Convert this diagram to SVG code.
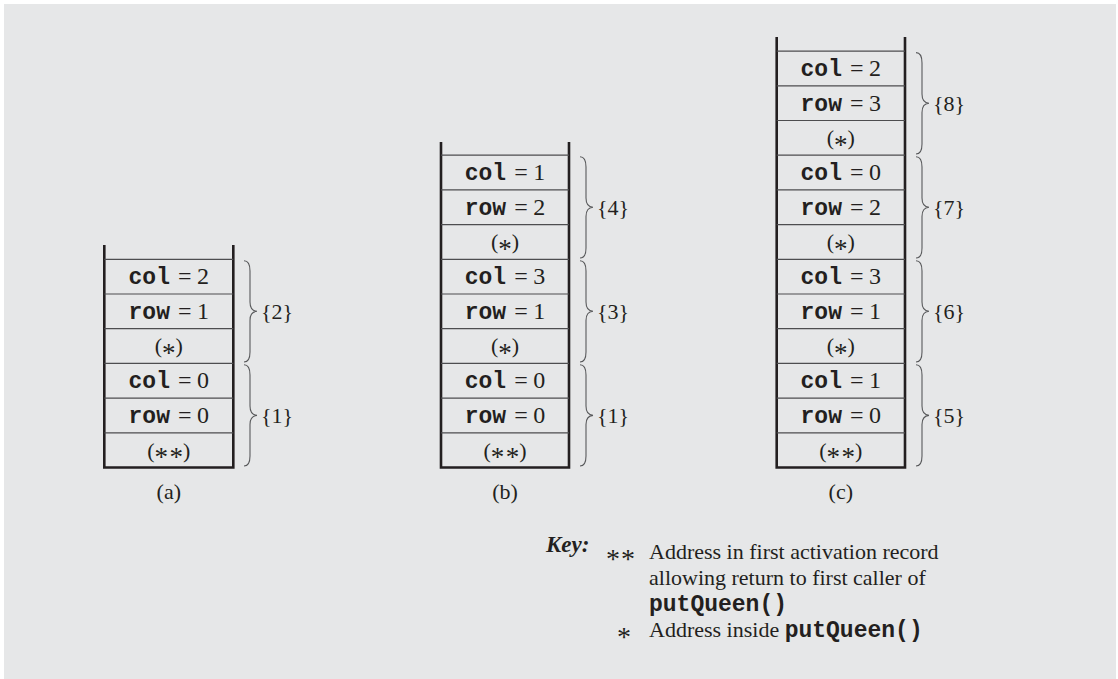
<svg xmlns="http://www.w3.org/2000/svg" width="1118" height="679" viewBox="0 0 1118 679">
<style>
text{font-family:"Liberation Serif","Times New Roman",serif;font-size:22px;fill:#231f20}
.c{text-anchor:middle}
.v{font-size:24px}
.code{font-family:"Liberation Mono","Courier New",monospace;font-weight:bold;font-size:23px}
.wall{stroke:#231f20;stroke-width:2.6;fill:none}
.sep{stroke:#4d4d4f;stroke-width:1.2;fill:none}
.brace{stroke:#58595b;stroke-width:1.1;fill:none}
.key{font-weight:bold;font-style:italic;font-size:23px}
.ast{font-size:27px}
.kast{font-size:28px}
</style>
<rect x="0" y="0" width="1118" height="679" fill="#ffffff"/>
<rect x="4" y="4" width="1112" height="675" fill="#e6e7e8"/>

<g id="stack-a">
  <path class="wall" d="M104.3,245 V467.5 H233.3 V245"/>
  <path class="sep" d="M104.3,259.3 H233.3 M104.3,294 H233.3 M104.3,328.7 H233.3 M104.3,363.4 H233.3 M104.3,398.1 H233.3 M104.3,432.8 H233.3"/>
  <g id="a-rec2">
    <text class="c v" x="168.8" y="284"><tspan class="code">col</tspan><tspan dx="8">=</tspan><tspan dx="5.5">2</tspan></text>
    <text class="c v" x="168.8" y="318.7"><tspan class="code">row</tspan><tspan dx="8">=</tspan><tspan dx="5.5">1</tspan></text>
    <text class="c" x="168.8" y="353.4">(<tspan class="ast" dy="8.5">*</tspan><tspan dy="-8.5">)</tspan></text>
  </g>
  <g id="a-rec1">
    <text class="c v" x="168.8" y="388.1"><tspan class="code">col</tspan><tspan dx="8">=</tspan><tspan dx="5.5">0</tspan></text>
    <text class="c v" x="168.8" y="422.8"><tspan class="code">row</tspan><tspan dx="8">=</tspan><tspan dx="5.5">0</tspan></text>
    <text class="c" x="168.8" y="457.5">(<tspan class="ast" dy="8.5">*</tspan><tspan class="ast" dx="1.5">*</tspan><tspan dy="-8.5">)</tspan></text>
  </g>
  <text class="c" x="168.8" y="499">(a)</text>
</g>

<g id="stack-b">
  <path class="wall" d="M441,142 V467.5 H569 V142"/>
  <path class="sep" d="M441,155.2 H569 M441,189.9 H569 M441,224.6 H569 M441,259.3 H569 M441,294 H569 M441,328.7 H569 M441,363.4 H569 M441,398.1 H569 M441,432.8 H569"/>
  <g id="b-rec4">
    <text class="c v" x="505" y="179.9"><tspan class="code">col</tspan><tspan dx="8">=</tspan><tspan dx="5.5">1</tspan></text>
    <text class="c v" x="505" y="214.6"><tspan class="code">row</tspan><tspan dx="8">=</tspan><tspan dx="5.5">2</tspan></text>
    <text class="c" x="505" y="249.3">(<tspan class="ast" dy="8.5">*</tspan><tspan dy="-8.5">)</tspan></text>
  </g>
  <g id="b-rec3">
    <text class="c v" x="505" y="284"><tspan class="code">col</tspan><tspan dx="8">=</tspan><tspan dx="5.5">3</tspan></text>
    <text class="c v" x="505" y="318.7"><tspan class="code">row</tspan><tspan dx="8">=</tspan><tspan dx="5.5">1</tspan></text>
    <text class="c" x="505" y="353.4">(<tspan class="ast" dy="8.5">*</tspan><tspan dy="-8.5">)</tspan></text>
  </g>
  <g id="b-rec1">
    <text class="c v" x="505" y="388.1"><tspan class="code">col</tspan><tspan dx="8">=</tspan><tspan dx="5.5">0</tspan></text>
    <text class="c v" x="505" y="422.8"><tspan class="code">row</tspan><tspan dx="8">=</tspan><tspan dx="5.5">0</tspan></text>
    <text class="c" x="505" y="457.5">(<tspan class="ast" dy="8.5">*</tspan><tspan class="ast" dx="1.5">*</tspan><tspan dy="-8.5">)</tspan></text>
  </g>
  <text class="c" x="505" y="499">(b)</text>
</g>

<g id="stack-c">
  <path class="wall" d="M776.7,37 V467.5 H905 V37"/>
  <path class="sep" d="M776.7,51.1 H905 M776.7,85.8 H905 M776.7,120.5 H905 M776.7,155.2 H905 M776.7,189.9 H905 M776.7,224.6 H905 M776.7,259.3 H905 M776.7,294 H905 M776.7,328.7 H905 M776.7,363.4 H905 M776.7,398.1 H905 M776.7,432.8 H905"/>
  <g id="c-rec8">
    <text class="c v" x="840.8" y="75.8"><tspan class="code">col</tspan><tspan dx="8">=</tspan><tspan dx="5.5">2</tspan></text>
    <text class="c v" x="840.8" y="110.5"><tspan class="code">row</tspan><tspan dx="8">=</tspan><tspan dx="5.5">3</tspan></text>
    <text class="c" x="840.8" y="145.2">(<tspan class="ast" dy="8.5">*</tspan><tspan dy="-8.5">)</tspan></text>
  </g>
  <g id="c-rec7">
    <text class="c v" x="840.8" y="179.9"><tspan class="code">col</tspan><tspan dx="8">=</tspan><tspan dx="5.5">0</tspan></text>
    <text class="c v" x="840.8" y="214.6"><tspan class="code">row</tspan><tspan dx="8">=</tspan><tspan dx="5.5">2</tspan></text>
    <text class="c" x="840.8" y="249.3">(<tspan class="ast" dy="8.5">*</tspan><tspan dy="-8.5">)</tspan></text>
  </g>
  <g id="c-rec6">
    <text class="c v" x="840.8" y="284"><tspan class="code">col</tspan><tspan dx="8">=</tspan><tspan dx="5.5">3</tspan></text>
    <text class="c v" x="840.8" y="318.7"><tspan class="code">row</tspan><tspan dx="8">=</tspan><tspan dx="5.5">1</tspan></text>
    <text class="c" x="840.8" y="353.4">(<tspan class="ast" dy="8.5">*</tspan><tspan dy="-8.5">)</tspan></text>
  </g>
  <g id="c-rec5">
    <text class="c v" x="840.8" y="388.1"><tspan class="code">col</tspan><tspan dx="8">=</tspan><tspan dx="5.5">1</tspan></text>
    <text class="c v" x="840.8" y="422.8"><tspan class="code">row</tspan><tspan dx="8">=</tspan><tspan dx="5.5">0</tspan></text>
    <text class="c" x="840.8" y="457.5">(<tspan class="ast" dy="8.5">*</tspan><tspan class="ast" dx="1.5">*</tspan><tspan dy="-8.5">)</tspan></text>
  </g>
  <text class="c" x="840.8" y="499">(c)</text>
</g>

<g id="braces">
  <path class="brace" d="M244,260.8 C249,260.8 250,265 250,271 L250,302 C250,307.5 252,311 257,311.3 C252,311.6 250,315 250,320.5 L250,352 C250,358 249,362 244,362"/>
  <path class="brace" d="M244,364.8 C249,364.8 250,369 250,375 L250,406 C250,411.5 252,415 257,415.4 C252,415.8 250,419 250,424.5 L250,456 C250,462 249,466 244,466"/>
  <path class="brace" d="M580,156.7 C585,156.7 586,161 586,167 L586,198 C586,203.5 588,207 593,207.3 C588,207.6 586,211 586,216.5 L586,248 C586,254 585,258 580,258"/>
  <path class="brace" d="M580,260.8 C585,260.8 586,265 586,271 L586,302 C586,307.5 588,311 593,311.3 C588,311.6 586,315 586,320.5 L586,352 C586,358 585,362 580,362"/>
  <path class="brace" d="M580,364.8 C585,364.8 586,369 586,375 L586,406 C586,411.5 588,415 593,415.4 C588,415.8 586,419 586,424.5 L586,456 C586,462 585,466 580,466"/>
  <path class="brace" d="M916,52.6 C921,52.6 922,57 922,63 L922,94 C922,99.5 924,103 929,103.2 C924,103.4 922,107 922,112.5 L922,144 C922,150 921,154 916,154"/>
  <path class="brace" d="M916,156.7 C921,156.7 922,161 922,167 L922,198 C922,203.5 924,207 929,207.3 C924,207.6 922,211 922,216.5 L922,248 C922,254 921,258 916,258"/>
  <path class="brace" d="M916,260.8 C921,260.8 922,265 922,271 L922,302 C922,307.5 924,311 929,311.3 C924,311.6 922,315 922,320.5 L922,352 C922,358 921,362 916,362"/>
  <path class="brace" d="M916,364.8 C921,364.8 922,369 922,375 L922,406 C922,411.5 924,415 929,415.4 C924,415.8 922,419 922,424.5 L922,456 C922,462 921,466 916,466"/>
  <text x="261" y="319">{2}</text>
  <text x="261" y="423">{1}</text>
  <text x="597" y="215">{4}</text>
  <text x="597" y="319">{3}</text>
  <text x="597" y="423">{1}</text>
  <text x="933" y="111">{8}</text>
  <text x="933" y="215">{7}</text>
  <text x="933" y="319">{6}</text>
  <text x="933" y="423">{5}</text>
</g>

<g id="key">
  <text class="key" x="546" y="552">Key:</text>
  <text class="kast" x="606" y="568">*<tspan dx="1">*</tspan></text>
  <text x="649" y="559">Address in first activation record</text>
  <text x="649" y="585">allowing return to first caller of</text>
  <text x="649" y="611" class="code">putQueen()</text>
  <text class="kast" x="617" y="646">*</text>
  <text x="649" y="637">Address inside <tspan class="code">putQueen()</tspan></text>
</g>
</svg>
